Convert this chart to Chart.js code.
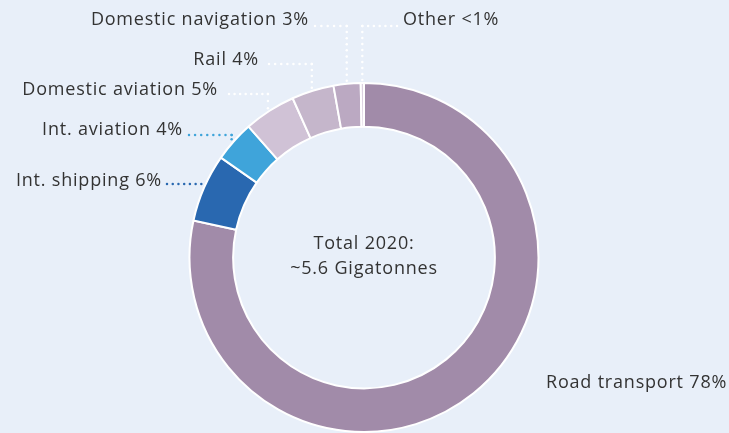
<!DOCTYPE html>
<html>
<head>
<meta charset="utf-8">
<script src="https://cdn.jsdelivr.net/npm/chart.js@4.4.1/dist/chart.umd.min.js"></script>
<style>
  html, body { margin: 0; padding: 0; background: #e8eff9; }
  #wrap { width: 729px; height: 433px; position: relative; }
</style>
</head>
<body>
<div id="wrap"><canvas id="transportDonut"></canvas></div>
<script>
const sectors = ["Road transport", "Int. shipping", "Int. aviation", "Domestic aviation", "Rail", "Domestic navigation", "Other"];
const shares = [78.4, 6.3, 3.8, 4.8, 3.9, 2.5, 0.3];
const shareLabels = ["78%", "6%", "4%", "5%", "4%", "3%", "<1%"];
const sliceColors = ["#a18ba9", "#2968b0", "#3fa4da", "#d0c2d6", "#c5b6cb", "#bba9c2", "#dcd2e0"];
const centerText = ["Total 2020:", "~5.6 Gigatonnes"];

const fontFamily = "'Open Sans', sans-serif";
const textColor = "#333333";

// where each label sits: text anchor point, and the corner of the dotted leader
const labelLayout = [
  { x: 546, y: 383, align: "left", line: null },
  { x: 162, y: 181, align: "right", dots: "#2968b0", line: { from: 167, y: 184 } },
  { x: 183, y: 130, align: "right", dots: "#3fa4da", line: { from: 189, y: 135 } },
  { x: 218, y: 90, align: "right", dots: "#ffffff", line: { from: 229, y: 94 } },
  { x: 259, y: 60, align: "right", dots: "#ffffff", line: { from: 269, y: 64 } },
  { x: 309, y: 20, align: "right", dots: "#ffffff", line: { from: 315, y: 26 } },
  { x: 403, y: 20, align: "left", dots: "#ffffff", line: { from: 397, y: 26 } },
];

function dotLine(ctx, x1, y1, x2, y2) {
  const len = Math.hypot(x2 - x1, y2 - y1);
  const n = Math.max(1, Math.round(len / 5.8));
  for (let i = 0; i <= n; i++) {
    const t = i / n;
    ctx.beginPath();
    ctx.arc(x1 + (x2 - x1) * t, y1 + (y2 - y1) * t, 1.25, 0, Math.PI * 2);
    ctx.fill();
  }
}

const calloutPlugin = {
  id: "callouts",
  afterDatasetsDraw(chart) {
    const ctx = chart.ctx;
    const meta = chart.getDatasetMeta(0);
    ctx.save();
    ctx.font = "18px " + fontFamily;
    ctx.letterSpacing = "0.8px";
    ctx.textBaseline = "middle";
    meta.data.forEach((arc, i) => {
      const lay = labelLayout[i];
      ctx.fillStyle = textColor;
      ctx.textAlign = lay.align;
      ctx.fillText(sectors[i] + " " + shareLabels[i], lay.x, lay.y);
      if (!lay.line) return;
      const p = arc.getProps(["x", "y", "startAngle", "endAngle", "outerRadius"], true);
      const mid = (p.startAngle + p.endAngle) / 2;
      const ex = p.x + Math.cos(mid) * (p.outerRadius + 3);
      const ey = p.y + Math.sin(mid) * (p.outerRadius + 3);
      ctx.fillStyle = lay.dots;
      dotLine(ctx, lay.line.from, lay.line.y, ex, lay.line.y);
      if (ey - lay.line.y > 4) dotLine(ctx, ex, lay.line.y, ex, ey);
    });
    // centre text
    ctx.fillStyle = textColor;
    ctx.textAlign = "center";
    ctx.fillText(centerText[0], meta.data[0].x, meta.data[0].y - 14);
    ctx.fillText(centerText[1], meta.data[0].x, meta.data[0].y + 11);
    ctx.restore();
  },
};

const config = {
  type: "doughnut",
  data: {
    labels: sectors,
    datasets: [
      {
        data: shares,
        backgroundColor: sliceColors,
        borderColor: "#ffffff",
        borderWidth: 2,
      },
    ],
  },
  options: {
    responsive: true,
    maintainAspectRatio: false,
    animation: false,
    cutout: "75%",
    layout: {
      padding: { left: 188, right: 189, top: 82, bottom: 0 },
    },
    plugins: {
      legend: { display: false },
      tooltip: { enabled: false },
    },
  },
  plugins: [calloutPlugin],
};

new Chart(document.getElementById("transportDonut"), config);
</script>
</body>
</html>
